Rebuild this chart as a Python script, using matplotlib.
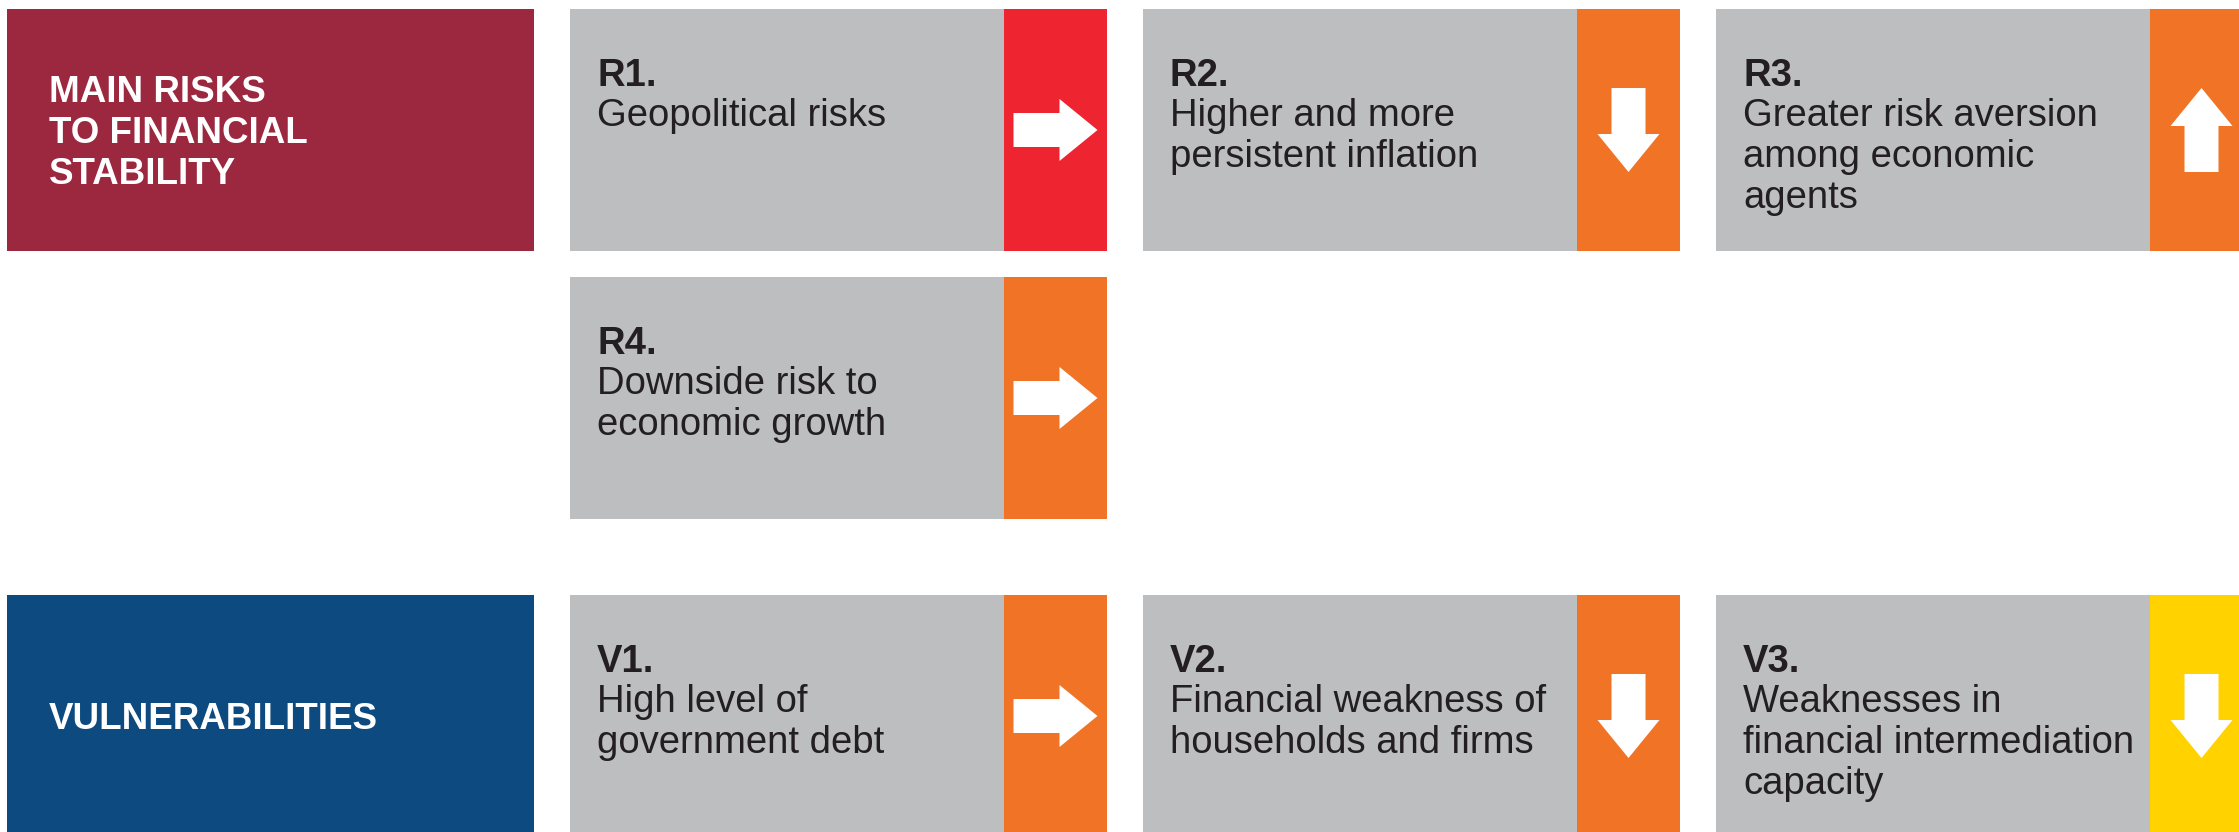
import matplotlib.pyplot as plt
from matplotlib.patches import Rectangle, Polygon

plt.rcParams['font.family'] = ['Liberation Sans', 'DejaVu Sans']

# Data
section_titles = ["MAIN RISKS\nTO FINANCIAL\nSTABILITY", "VULNERABILITIES"]
section_colors = ["#9C2840", "#0C4A80"]
section_rows = [0, 2]

codes = ["R1.", "R2.", "R3.", "R4.", "V1.", "V2.", "V3."]
descriptions = [
    "Geopolitical risks",
    "Higher and more\npersistent inflation",
    "Greater risk aversion\namong economic\nagents",
    "Downside risk to\neconomic growth",
    "High level of\ngovernment debt",
    "Financial weakness of\nhouseholds and firms",
    "Weaknesses in\nfinancial intermediation\ncapacity",
]
levels = ["high", "medium", "medium", "medium", "medium", "medium", "low"]
trends = ["right", "down", "up", "right", "right", "down", "down"]
grid_row = [0, 0, 0, 1, 2, 2, 2]
grid_col = [0, 1, 2, 0, 0, 1, 2]

level_colors = {"high": "#EE2430", "medium": "#F07326", "low": "#FFD200"}

# Layout (pixels)
W, H = 2239, 832
row_top = [9, 277, 595]
card_h = 242
head_x, head_w = 7, 527
card_x0, card_step, card_w, stripe_w = 570, 573, 537, 103
text_pad = 27
line_h = 40.5

fig = plt.figure(figsize=(W / 100, H / 100), dpi=100)
ax = fig.add_axes([0, 0, 1, 1])
ax.set_xlim(0, W)
ax.set_ylim(H, 0)
ax.set_axis_off()

# Section headers
for title, color, r in zip(section_titles, section_colors, section_rows):
    top = row_top[r]
    ax.add_patch(Rectangle((head_x, top), head_w, card_h, color=color, lw=0))
    lines = title.split("\n")
    n = len(lines)
    for i, ln in enumerate(lines):
        y = top + card_h / 2 + 13 + (i - (n - 1) / 2) * line_h
        ax.text(head_x + 42, y, ln, color="white", fontsize=26.5,
                fontweight="bold", va="baseline", ha="left")


def draw_arrow(cx, cy, direction):
    L, hw, sw, hl = 84, 62, 34, 38
    # right-pointing arrow centred at origin
    pts = [(-L / 2, -sw / 2), (L / 2 - hl, -sw / 2), (L / 2 - hl, -hw / 2),
           (L / 2, 0), (L / 2 - hl, hw / 2), (L / 2 - hl, sw / 2), (-L / 2, sw / 2)]
    if direction == "down":
        pts = [(-y, x) for x, y in pts]
    elif direction == "up":
        pts = [(y, -x) for x, y in pts]
    ax.add_patch(Polygon([(cx + x, cy + y) for x, y in pts], closed=True,
                         color="white", lw=0))


for code, desc, lev, tr, r, c in zip(codes, descriptions, levels, trends,
                                     grid_row, grid_col):
    x0 = card_x0 + c * card_step
    top = row_top[r]
    gray_w = card_w - stripe_w
    ax.add_patch(Rectangle((x0, top), gray_w, card_h, color="#BDBEC0", lw=0))
    ax.add_patch(Rectangle((x0 + gray_w, top), stripe_w, card_h,
                           color=level_colors[lev], lw=0))
    ax.text(x0 + text_pad, top + 77, code, fontsize=27.5, fontweight="bold",
            color="#231F20", va="baseline", ha="left")
    for i, ln in enumerate(desc.split("\n")):
        ax.text(x0 + text_pad, top + 77 + line_h * (i + 1), ln, fontsize=27.5,
                color="#231F20", va="baseline", ha="left")
    draw_arrow(x0 + gray_w + stripe_w / 2, top + card_h / 2, tr)

fig.savefig("out.png", dpi=100, facecolor="white")
